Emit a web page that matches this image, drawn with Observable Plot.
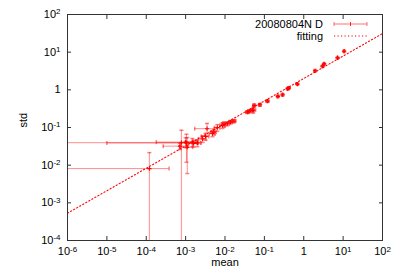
<!DOCTYPE html>
<html><head><meta charset="utf-8">
<script src="https://cdn.jsdelivr.net/npm/d3@7"></script>
<script src="https://cdn.jsdelivr.net/npm/@observablehq/plot@0.6"></script>
<style>
body{margin:0;background:#fff;}
#chart{width:400px;height:280px;}
</style></head><body><div id="chart"></div>
<script>
// ---- data ----
const meanVals = [1.2e-4, 7.8e-4, 1.0e-3, 1.05e-3, 1.1e-3, 7.2e-4, 1.48e-3, 1.6e-3, 1.98e-3, 2.7e-3, 3.2e-3, 3.5e-3, 4.8e-3, 5.2e-3, 6.4e-3, 8.6e-3, 9.4e-3, 0.0115, 0.0139, 0.0169, 0.037, 0.041, 0.05, 0.052, 0.055, 0.077, 0.12, 0.22, 0.29, 0.39, 0.42, 0.69, 1.94, 3.0, 3.29, 7.2, 10.6];
const stdVals  = [0.0081, 0.0395, 0.041, 0.039, 0.030, 0.032, 0.041, 0.038, 0.039, 0.05, 0.058, 0.093, 0.069, 0.0755, 0.099, 0.114, 0.121, 0.126, 0.139, 0.148, 0.256, 0.27, 0.285, 0.29, 0.385, 0.40, 0.50, 0.67, 0.74, 1.07, 1.12, 1.42, 3.2, 4.26, 4.9, 7.1, 10.6];
const meanErr  = [2.6e-4, 1.6e-3, 8.2e-4, 1.04e-3, 4e-4, 4.5e-4, 5e-4, 4e-4, 5e-4, 6e-4, 7e-4, 1.8e-3, 8e-4, 8e-4, 1e-3, 1.2e-3, 1.2e-3, 1.5e-3, 1.5e-3, 2e-3, 3e-3, 3e-3, 4e-3, 8e-3, 4e-3, 5e-3, 8e-3, 0.01, 0.015, 0.02, 0.02, 0.03, 0.08, 0.1, 0.1, 0.2, 0.3];
const stdErr   = [0.0134, 0.045, 0.012, 0.027, 0.024, 0.006, 0.01, 0.008, 0.008, 0.01, 0.012, 0.035, 0.012, 0.012, 0.02, 0.02, 0.02, 0.015, 0.015, 0.015, 0.02, 0.02, 0.025, 0.05, 0.03, 0.03, 0.03, 0.04, 0.04, 0.05, 0.05, 0.06, 0.15, 0.2, 0.2, 0.3, 0.5];
const xTicks = [1e-6, 1e-5, 1e-4, 1e-3, 1e-2, 1e-1, 1, 10, 100];
const yTicks = [1e-4, 1e-3, 1e-2, 1e-1, 1, 10, 100];
const xDomain = [1e-6, 1e2];
const yDomain = [1e-4, 1e2];
const fitA = 2.0, fitB = 0.596;
const fitX = [1e-6, 1e2];
const seriesLabel = "20080804N D";
const fitLabel = "fitting";
const xLabel = "mean", yLabel = "std";

// ---- helpers ----
const RED = "#ff0000";
const fmt = v => { const e = Math.round(Math.log10(v)); return e === 0 ? "1" : "10^" + e; };
const none = () => "";
const capV = {draw(ctx, size){ const r = Math.sqrt(size/Math.PI); ctx.moveTo(0,-r); ctx.lineTo(0,r); }};
const capH = {draw(ctx, size){ const r = Math.sqrt(size/Math.PI); ctx.moveTo(-r,0); ctx.lineTo(r,0); }};

const data = meanVals.map((m,i)=>({mean:m, std:stdVals[i], me:meanErr[i], se:stdErr[i]}));
const TINY = 1e-12;
const fitData = fitX.map(x => ({x, y: fitA * Math.pow(x, fitB)}));
const inX = v => v >= xDomain[0] && v <= xDomain[1];
const inY = v => v >= yDomain[0] && v <= yDomain[1];

const plot = Plot.plot({
  width: 400, height: 280,
  marginLeft: 67, marginRight: 18, marginTop: 14, marginBottom: 40,
  style: {fontFamily: "'Liberation Sans', Arial, Helvetica, sans-serif", fontSize: "11px", color: "#000", background: "#fff", overflow: "visible"},
  x: {type: "log", domain: xDomain},
  y: {type: "log", domain: yDomain},
  marks: [
    // error bars
    Plot.ruleY(data, {y: "std", x1: d => Math.max(d.mean - d.me, TINY), x2: d => d.mean + d.me, stroke: RED, strokeOpacity: 0.45, clip: true}),
    Plot.ruleX(data, {x: "mean", y1: d => Math.max(d.std - d.se, TINY), y2: d => d.std + d.se, stroke: RED, strokeOpacity: 0.45, clip: true}),
    Plot.dot(data.filter(d => inX(d.mean - d.me)), {x: d => d.mean - d.me, y: "std", symbol: capV, r: 2, stroke: RED, strokeOpacity: 0.5, fill: "none"}),
    Plot.dot(data.filter(d => inX(d.mean + d.me)), {x: d => d.mean + d.me, y: "std", symbol: capV, r: 2, stroke: RED, strokeOpacity: 0.5, fill: "none"}),
    Plot.dot(data.filter(d => inY(d.std - d.se)), {x: "mean", y: d => d.std - d.se, symbol: capH, r: 2, stroke: RED, strokeOpacity: 0.5, fill: "none"}),
    Plot.dot(data.filter(d => inY(d.std + d.se)), {x: "mean", y: d => d.std + d.se, symbol: capH, r: 2, stroke: RED, strokeOpacity: 0.5, fill: "none"}),
    // fitting line
    Plot.line(fitData, {x: "x", y: "y", stroke: RED, strokeWidth: 1.1, strokeDasharray: "1.2,2.3", clip: true}),
    // points
    Plot.dot(data, {x: "mean", y: "std", symbol: "plus", r: 1.5, stroke: RED, strokeWidth: 1.1}),
    // frame and axes
    Plot.frame({stroke: "#333"}),
    Plot.axisX(xTicks, {anchor: "bottom", tickSize: -4, tickFormat: none, label: null, stroke: "#333"}),
    Plot.axisX(xTicks, {anchor: "top", tickSize: -4, tickFormat: none, label: null, stroke: "#333"}),
    Plot.axisY(yTicks, {anchor: "left", tickSize: -4, tickFormat: none, label: null, stroke: "#333"}),
    Plot.axisY(yTicks, {anchor: "right", tickSize: -4, tickFormat: none, label: null, stroke: "#333"}),
    Plot.axisX(xTicks, {anchor: "bottom", tickSize: 0, tickPadding: 7, tickFormat: fmt, label: null, fill: "#000"}),
    Plot.axisY(yTicks, {anchor: "left", tickSize: 0, tickPadding: 7, tickFormat: fmt, label: null, fill: "#000"}),
    Plot.text([xLabel], {frameAnchor: "bottom", dy: 25, text: d => d, fontSize: 11}),
    Plot.text([yLabel], {frameAnchor: "left", dx: -44, rotate: -90, text: d => d, fontSize: 11})
  ]
});

// superscript exponents in tick labels
d3.select(plot).selectAll('g[aria-label$="tick label"] text').each(function(){
  const s = this.textContent;
  if (s.indexOf("^") < 0) return;
  const [base, exp] = s.split("^");
  const t = d3.select(this);
  t.text(null);
  t.append("tspan").text(base);
  t.append("tspan").attr("dy", "-0.45em").attr("font-size", "8px").text(exp);
});

// legend (inside the plot, top-right)
const svg = d3.select(plot);
const lg = svg.append("g").attr("font-family", "'Liberation Sans', Arial, sans-serif").attr("font-size", 11);
const rows = [{label: seriesLabel, type: "err"}, {label: fitLabel, type: "fit"}];
rows.forEach((r, i) => {
  const yy = 24 + i * 12;
  lg.append("text").attr("x", 323).attr("y", yy).attr("dy", "0.35em").attr("text-anchor", "end").text(r.label);
  if (r.type === "err") {
    lg.append("line").attr("x1", 334).attr("x2", 367).attr("y1", yy).attr("y2", yy).attr("stroke", RED).attr("stroke-opacity", 0.55);
    [334, 367].forEach(x => lg.append("line").attr("x1", x).attr("x2", x).attr("y1", yy-2).attr("y2", yy+2).attr("stroke", RED).attr("stroke-opacity", 0.55));
    lg.append("line").attr("x1", 350.5).attr("x2", 350.5).attr("y1", yy-2).attr("y2", yy+2).attr("stroke", RED).attr("stroke-opacity", 0.8);
  } else {
    lg.append("line").attr("x1", 334).attr("x2", 367).attr("y1", yy).attr("y2", yy).attr("stroke", RED).attr("stroke-width", 1.1).attr("stroke-dasharray", "1.2,2.3");
  }
});

document.getElementById("chart").appendChild(plot);
</script>
</body></html>
